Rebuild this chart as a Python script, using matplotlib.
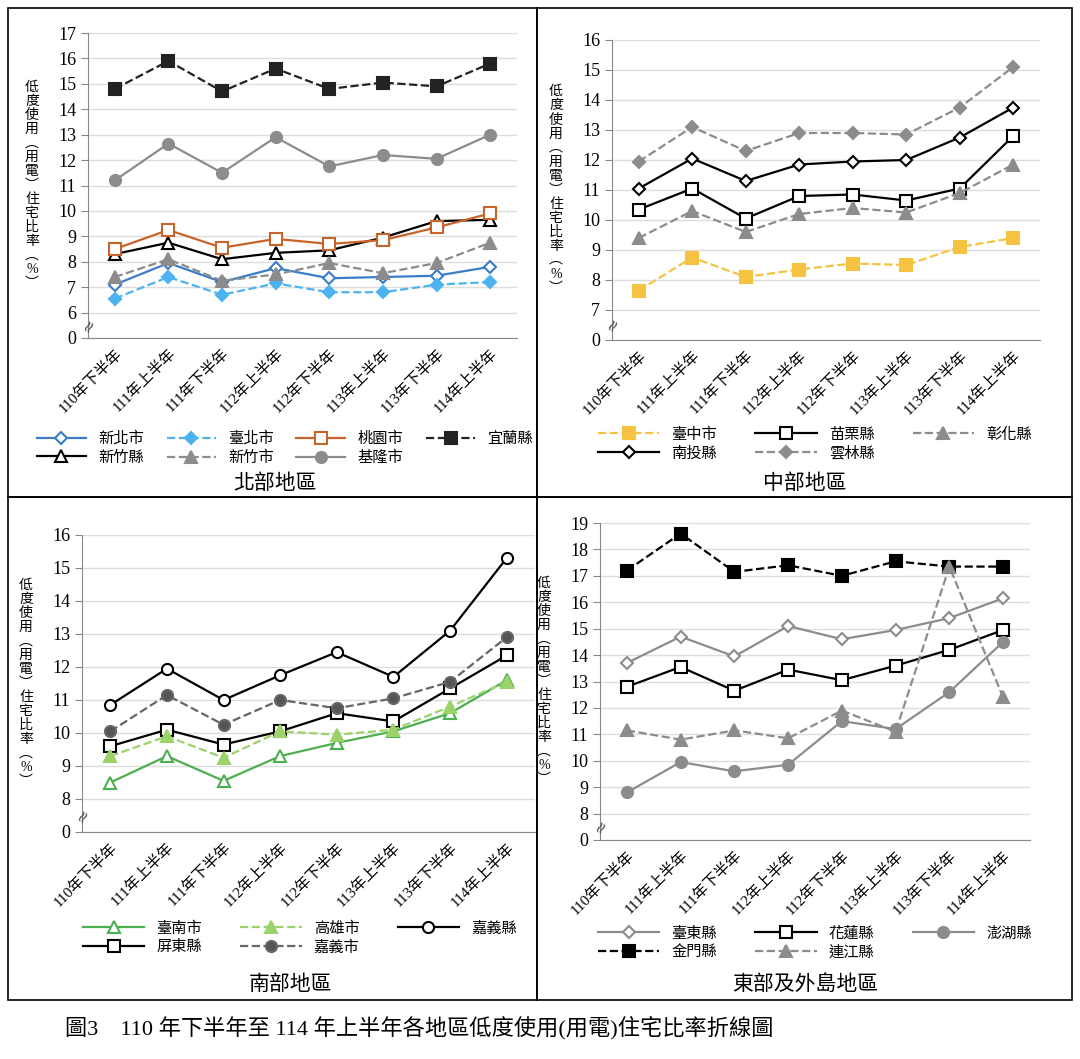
import matplotlib
matplotlib.use("Agg")
import matplotlib.pyplot as plt
from matplotlib.patches import Rectangle

plt.rcParams['font.family'] = ['Liberation Serif', 'Noto Sans CJK TC', 'DejaVu Sans']

periods = ["110年下半年", "111年上半年", "111年下半年", "112年上半年",
           "112年下半年", "113年上半年", "113年下半年", "114年上半年"]

# north
new_taipei = [7.1, 7.95, 7.2, 7.75, 7.35, 7.4, 7.45, 7.8]
taipei = [6.55, 7.4, 6.7, 7.15, 6.8, 6.8, 7.1, 7.2]
taoyuan = [8.5, 9.25, 8.55, 8.9, 8.7, 8.85, 9.35, 9.9]
yilan = [14.8, 15.9, 14.7, 15.6, 14.8, 15.05, 14.9, 15.8]
hsinchu_county = [8.3, 8.75, 8.1, 8.35, 8.45, 8.95, 9.6, 9.65]
hsinchu_city = [7.4, 8.1, 7.25, 7.5, 7.95, 7.55, 7.95, 8.75]
keelung = [11.2, 12.65, 11.5, 12.9, 11.75, 12.2, 12.05, 13.0]
# central
taichung = [7.65, 8.75, 8.1, 8.35, 8.55, 8.5, 9.1, 9.4]
miaoli = [10.35, 11.05, 10.05, 10.8, 10.85, 10.65, 11.05, 12.8]
changhua = [9.4, 10.3, 9.6, 10.2, 10.4, 10.25, 10.9, 11.85]
nantou = [11.05, 12.05, 11.3, 11.85, 11.95, 12.0, 12.75, 13.75]
yunlin = [11.95, 13.1, 12.3, 12.9, 12.9, 12.85, 13.75, 15.1]
# south
tainan = [8.5, 9.3, 8.55, 9.3, 9.7, 10.05, 10.6, 11.6]
kaohsiung = [9.3, 9.9, 9.25, 10.05, 9.95, 10.1, 10.8, 11.55]
chiayi_county = [10.85, 11.95, 11.0, 11.75, 12.45, 11.7, 13.1, 15.3]
pingtung = [9.6, 10.1, 9.65, 10.05, 10.6, 10.35, 11.35, 12.35]
chiayi_city = [10.05, 11.15, 10.25, 11.0, 10.75, 11.05, 11.55, 12.9]
# east & islands
taitung = [13.7, 14.7, 13.95, 15.1, 14.6, 14.95, 15.4, 16.15]
hualien = [12.8, 13.55, 12.65, 13.45, 13.05, 13.6, 14.2, 14.95]
penghu = [8.8, 9.95, 9.6, 9.85, 11.5, 11.2, 12.6, 14.5]
kinmen = [17.2, 18.6, 17.15, 17.4, 17.0, 17.55, 17.35, 17.35]
lienchiang = [11.15, 10.8, 11.15, 10.85, 11.9, 11.1, 17.35, 12.4]

GREY = '#8c8c8c'
W, H = 1080, 1059
fig = plt.figure(figsize=(W / 100, H / 100), dpi=100)


def fx(px):
    return px / W


def fy(py):
    return 1 - py / H


# series listed in legend column order (legend fills column by column)
panels = [
    dict(box=(88, 33, 517, 338), lo=6, hi=17, title="北部地區", ty=484, ly=448, ncol=4, lx=(40, 530),
         series=[
             ("新北市", new_taipei, '#3A7DC9', '-', 'D', 'white'),
             ("新竹縣", hsinchu_county, 'black', '-', '^', 'white'),
             ("臺北市", taipei, '#4DB3F0', '--', 'D', '#4DB3F0'),
             ("新竹市", hsinchu_city, GREY, '--', '^', GREY),
             ("桃園市", taoyuan, '#C8642A', '-', 's', 'white'),
             ("基隆市", keelung, GREY, '-', 'o', GREY),
             ("宜蘭縣", yilan, '#222222', '--', 's', '#222222'),
         ]),
    dict(box=(612, 40, 1040, 340), lo=7, hi=16, title="中部地區", ty=484, ly=444, ncol=3, lx=(570, 1060),
         series=[
             ("臺中市", taichung, '#F5C242', '--', 's', '#F5C242'),
             ("南投縣", nantou, 'black', '-', 'D', 'white'),
             ("苗栗縣", miaoli, 'black', '-', 's', 'white'),
             ("雲林縣", yunlin, GREY, '--', 'D', GREY),
             ("彰化縣", changhua, GREY, '--', '^', GREY),
         ]),
    dict(box=(82, 535, 535, 832), lo=8, hi=16, title="南部地區", ty=985, ly=938, ncol=3, lx=(60, 540),
         series=[
             ("臺南市", tainan, '#4CAF50', '-', '^', 'white'),
             ("屏東縣", pingtung, 'black', '-', 's', 'white'),
             ("高雄市", kaohsiung, '#9CD26A', '--', '^', '#9CD26A'),
             ("嘉義市", chiayi_city, '#666666', '--', 'o', '#555555'),
             ("嘉義縣", chiayi_county, 'black', '-', 'o', 'white'),
         ]),
    dict(box=(600, 523, 1030, 840), lo=8, hi=19, title="東部及外島地區", ty=985, ly=943, ncol=3, lx=(570, 1060),
         series=[
             ("臺東縣", taitung, GREY, '-', 'D', 'white'),
             ("金門縣", kinmen, 'black', '--', 's', 'black'),
             ("花蓮縣", hualien, 'black', '-', 's', 'white'),
             ("連江縣", lienchiang, GREY, '--', '^', GREY),
             ("澎湖縣", penghu, GREY, '-', 'o', GREY),
         ]),
]

ylabel = "\n".join("低度使用︵用電︶住宅比率︵%︶")

for p in panels:
    x0, y0, x1, y1 = p['box']
    ax = fig.add_axes([fx(x0), fy(y1), fx(x1 - x0), (y1 - y0) / H])
    xs = range(len(periods))
    for name, vals, c, ls, m, mfc in p['series']:
        ms = 8 if m in ('s', 'o', '^') else 6
        ax.plot(xs, vals, color=c, ls=ls, lw=1.6, marker=m, ms=ms, mfc=mfc, mec=c, mew=1.5, label=name)
    lo, hi = p['lo'], p['hi']
    ax.set_ylim(lo - 1, hi)
    ticks = list(range(lo - 1, hi + 1))
    ax.set_yticks(ticks, ["0"] + [str(t) for t in ticks[1:]], fontsize=13)
    ax.set_xlim(-0.5, len(periods) - 0.5)
    ax.set_xticks(list(xs), periods, rotation=45, ha='right', rotation_mode='anchor', fontsize=11)
    ax.yaxis.grid(True, color='#dddddd', lw=1)
    ax.set_axisbelow(True)
    for s in ('top', 'right'):
        ax.spines[s].set_visible(False)
    for s in ('left', 'bottom'):
        ax.spines[s].set_color('#888888')
    ax.tick_params(axis='y', length=5, color='#888888')
    ax.tick_params(axis='x', length=0, pad=6)
    ax.text(0, 0.5 / (hi - lo + 1), "≈", transform=ax.transAxes, rotation=60,
            ha='center', va='center', fontsize=12, family='DejaVu Sans', color='#555555')
    fig.text(fx(x0 - 56), fy((y0 + y1) / 2), ylabel, ha='center', va='center', fontsize=10, linespacing=1.1)
    handles, labels = ax.get_legend_handles_labels()
    lx0, lx1 = p['lx']
    fig.legend(handles, labels, ncol=p['ncol'], loc='center',
               bbox_to_anchor=(fx((lx0 + lx1) / 2), fy(p['ly'])), frameon=False, fontsize=11,
               handlelength=3.2 if p['ncol'] == 4 else 4, columnspacing=1.5 if p['ncol'] == 4 else 2.5,
               labelspacing=0.3)
    fig.text(fx((lx0 + lx1) / 2 - 10), fy(p['ty']), p['title'], ha='center', va='center', fontsize=15)

# panel frames
for (a, b, c, d) in [(8, 8, 537, 497), (537, 8, 1072, 497), (8, 497, 537, 1000), (537, 497, 1072, 1000)]:
    fig.patches.append(Rectangle((fx(a), fy(d)), fx(c - a), (d - b) / H, transform=fig.transFigure,
                                 fill=False, ec='black', lw=1.2))

fig.text(fx(65), fy(1028), "圖3　110 年下半年至 114 年上半年各地區低度使用(用電)住宅比率折線圖",
         ha='left', va='center', fontsize=16)

fig.savefig("out.png", dpi=100)
